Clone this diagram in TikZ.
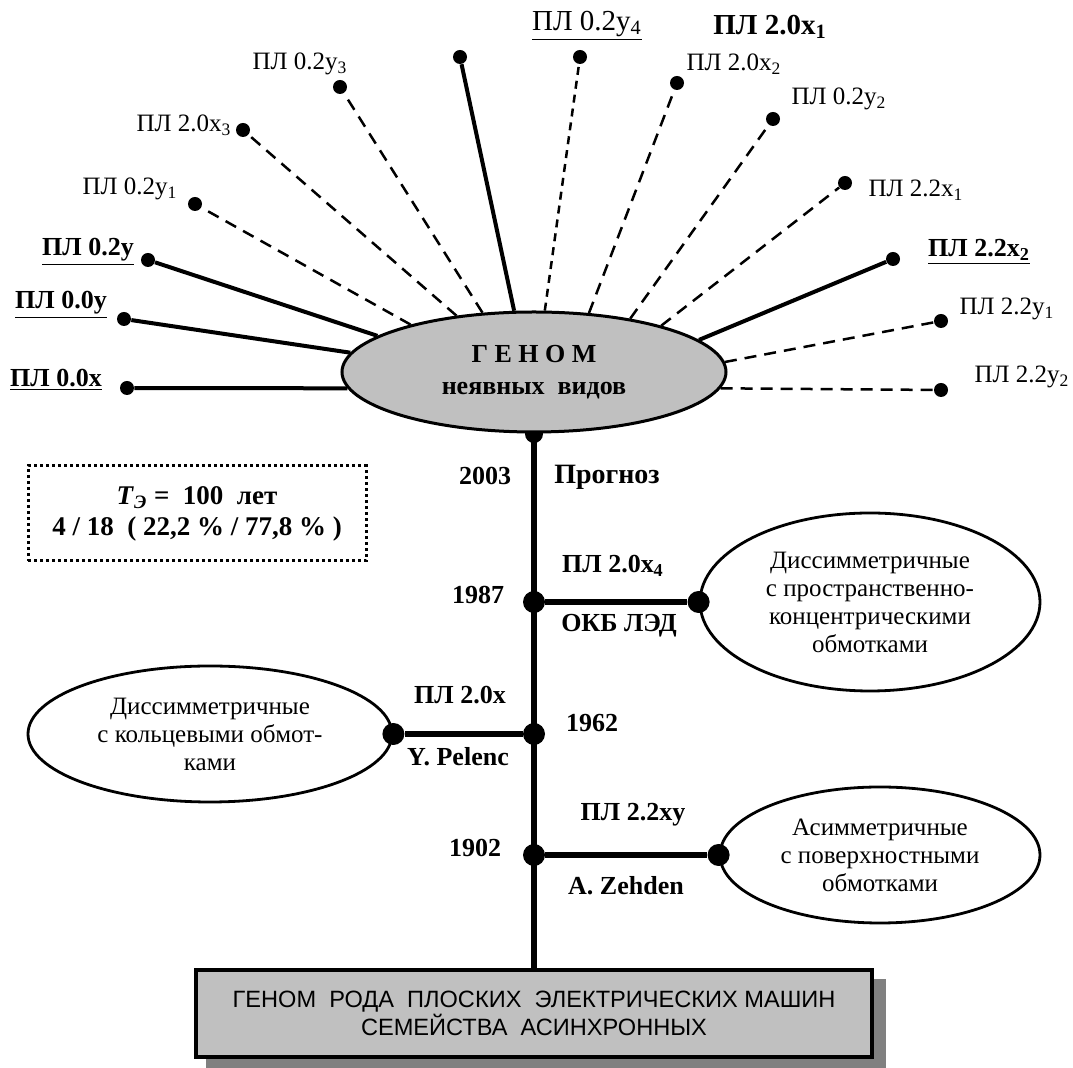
\documentclass[tikz,border=0pt]{standalone}
\usepackage{fontspec}
\setmainfont{Liberation Serif}
\newfontfamily\boxfont{Liberation Sans}
\usetikzlibrary{shapes.geometric}
\usetikzlibrary{positioning}
\pgfdeclarelayer{background}
\pgfsetlayers{background,main}
\definecolor{shade}{RGB}{192,192,192}
\definecolor{shadow}{RGB}{128,128,128}
\tikzset{
    genome/.style={
           ellipse,
           draw=black,
           line width=1.5pt,
           fill=shade,
           inner sep=0pt,
           minimum width=192pt,
           minimum height=60pt,
           align=center,
           font=\fontsize{13}{16}\selectfont\bfseries,
           },
    typeell/.style={
           ellipse,
           draw=black,
           line width=1.4pt,
           fill=white,
           inner sep=0pt,
           align=center,
           font=\fontsize{12.5}{14}\selectfont,
           },
    enddot/.style={circle, fill=black, inner sep=0pt, minimum size=7pt},
    knot/.style={circle, fill=black, inner sep=0pt, minimum size=11pt},
    ray/.style={line width=2pt},
    dashray/.style={line width=1.25pt, dash pattern=on 6pt off 4pt},
    shortdash/.style={line width=1.25pt, dash pattern=on 4pt off 3pt},
    stem/.style={line width=3pt},
    plainlbl/.style={inner sep=0pt, font=\fontsize{12.5}{14}\selectfont},
    boldlbl/.style={inner sep=0pt, font=\fontsize{13}{15}\selectfont\bfseries},
    basebox/.style={
           rectangle,
           draw=black,
           line width=1.75pt,
           fill=shade,
           minimum width=338pt,
           minimum height=43.5pt,
           align=center,
           font=\boxfont\fontsize{11.8}{14.2}\selectfont,
           },
    infobox/.style={
           rectangle,
           draw=black,
           line width=1.5pt,
           dash pattern=on 1.5pt off 1.5pt,
           minimum width=169pt,
           minimum height=47.5pt,
           align=center,
           font=\fontsize{13.5}{15.5}\selectfont\bfseries,
           },
}
\begin{document}
\begin{tikzpicture}[x=0.5pt,y=-0.5pt]
 \useasboundingbox (0,0) rectangle (1073,1068);

 \node[genome] (GENOME) at (534,372) {Г Е Н О М\\неявных\ \ видов};

 \node[enddot] (D00X) at (127,388) {};
 \node[enddot] (D00Y) at (124,319) {};
 \node[enddot] (D02Y) at (148,260) {};
 \node[enddot] (D02Y1) at (195,204) {};
 \node[enddot] (D20X3) at (243,130) {};
 \node[enddot] (D02Y3) at (340,87) {};
 \node[enddot] (DTOP) at (460,57) {};
 \node[enddot] (D02Y4) at (580,57) {};
 \node[enddot] (D20X2) at (677,83) {};
 \node[enddot] (D02Y2) at (773,119) {};
 \node[enddot] (D22X1) at (845,183) {};
 \node[enddot] (D22X2) at (893,259) {};
 \node[enddot] (D22Y1) at (941,321) {};
 \node[enddot] (D22Y2) at (941,390) {};

 \draw[ray] (GENOME.185) -- (D00X);
 \draw[ray] (GENOME.174) -- (D00Y);
 \draw[ray] (GENOME.167) -- (D02Y);
 \draw[dashray] (GENOME.159) -- (D02Y1);
 \draw[dashray] (GENOME.144) -- (D20X3);
 \draw[dashray] (GENOME.131) -- (D02Y3);
 \draw[ray] (GENOME.108) -- (DTOP);
 \draw[shortdash] (GENOME.80) -- (D02Y4);
 \draw[dashray] (GENOME.47) -- (D20X2);
 \draw[dashray] (GENOME.29) -- (D02Y2);
 \draw[dashray] (GENOME.20) -- (D22X1);
 \draw[ray] (GENOME.11) -- (D22X2);
 \draw[dashray] (GENOME.3) -- (D22Y1);
 \draw[dashray] (GENOME.355) -- (D22Y2);

 \node[boldlbl] (L00X) at (56,380) {\underline{ПЛ 0.0x}};
 \node[boldlbl] (L00Y) at (61,305) {\underline{ПЛ 0.0y}};
 \node[boldlbl] (L02Y) at (88,252) {\underline{ПЛ 0.2y}};
 \node[plainlbl] (L02Y1) at (130,189) {ПЛ 0.2y\textsubscript{1}};
 \node[plainlbl] (L20X3) at (184,125) {ПЛ 2.0x\textsubscript{3}};
 \node[plainlbl] (L02Y3) at (300,64) {ПЛ 0.2y\textsubscript{3}};
 \node[plainlbl, font=\fontsize{14.5}{16}\selectfont] (L02Y4) at (587,26)
   {\underline{ПЛ 0.2y\textsubscript{4}}};
 \node[boldlbl, font=\fontsize{14.5}{16}\selectfont\bfseries] (L20X1) at (770,27)
   {ПЛ 2.0x\textsubscript{1}};
 \node[plainlbl] (L20X2) at (734,64) {ПЛ 2.0x\textsubscript{2}};
 \node[plainlbl] (L02Y2) at (839,99) {ПЛ 0.2y\textsubscript{2}};
 \node[plainlbl] (L22X1) at (916,190) {ПЛ 2.2x\textsubscript{1}};
 \node[boldlbl] (L22X2) at (979,252) {\underline{ПЛ 2.2x\textsubscript{2}}};
 \node[plainlbl] (L22Y1) at (1007,309) {ПЛ 2.2y\textsubscript{1}};
 \node[plainlbl] (L22Y2) at (1022,377) {ПЛ 2.2y\textsubscript{2}};

 \node[infobox] (INFO) at (197,513.5)
   {\textit{T}\textsubscript{\textit{Э}}\ =\ \ 100\ \ лет\\
    4 / 18\ \ ( 22,2 \% / 77,8 \% )};

 \node[typeell, minimum width=170pt, minimum height=89pt] (DIS1) at (870,602)
   {Диссимметричные\\с пространственно-\\концентрическими\\обмотками};
 \node[typeell, minimum width=182pt, minimum height=68pt] (DIS2) at (210,734)
   {Диссимметричные\\с кольцевыми обмот-\\ками};
 \node[typeell, minimum width=160pt, minimum height=68pt] (ASYM) at (880,855)
   {Асимметричные\\с поверхностными\\обмотками};

 \node[basebox] (BASE) at (534,1013.5)
   {ГЕНОМ\ \ РОДА\ \ ПЛОСКИХ\ \ ЭЛЕКТРИЧЕСКИХ МАШИН\\
    СЕМЕЙСТВА\ \ АСИНХРОННЫХ};

 \begin{pgfonlayer}{background}
  \fill[white] (0,0) rectangle (1073,1068);
  \fill[shadow] ([xshift=6pt,yshift=-5.5pt]BASE.south west)
    rectangle ([xshift=6pt,yshift=-5.5pt]BASE.north east);
  \draw[stem] (GENOME.south) -- (BASE.north);
  \node[knot, minimum size=9pt] (J2003) at (534,434) {};
 \end{pgfonlayer}

 \node[knot] (J1987) at (534,602) {};
 \node[knot] (J1962) at (534,734) {};
 \node[knot] (J1902) at (534,855) {};
 \node[knot] (E1987) at (DIS1.west) {};
 \node[knot] (E1962) at (DIS2.east) {};
 \node[knot] (E1902) at (ASYM.west) {};
 \draw[stem] (J1987) -- (E1987);
 \draw[stem] (J1962) -- (E1962);
 \draw[stem] (J1902) -- (E1902);

 \node[boldlbl] (Y2003) at (485,476) {2003};
 \node[boldlbl, font=\fontsize{14}{16}\selectfont\bfseries] (PROG) at (607,477) {Прогноз};
 \node[boldlbl] (Y1987) at (478,595) {1987};
 \node[boldlbl] (L20X4) at (613,566) {ПЛ 2.0x\textsubscript{4}};
 \node[boldlbl] (OKB) at (619,626) {ОКБ ЛЭД};
 \node[boldlbl] (Y1962) at (592,723) {1962};
 \node[boldlbl] (L20X) at (460,695) {ПЛ 2.0x};
 \node[boldlbl] (PEL) at (458,757) {Y. Pelenc};
 \node[boldlbl] (Y1902) at (475,848) {1902};
 \node[boldlbl] (L22XY) at (633,815) {ПЛ 2.2xy};
 \node[boldlbl] (ZEH) at (626,886) {A. Zehden};
\end{tikzpicture}
\end{document}
